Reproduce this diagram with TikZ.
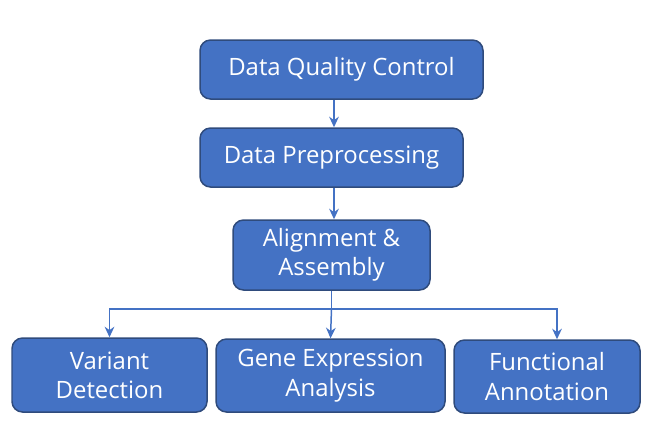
\documentclass[tikz,border=0pt]{standalone}
\usepackage{fontspec}
\setmainfont{Open Sans}
\usetikzlibrary{arrows.meta}
\definecolor{boxblue}{HTML}{4472C4}
\definecolor{boxline}{HTML}{2F4B7C}
\tikzset{every picture/.style={line width=0.85pt}}
\tikzset{stagebox/.style={draw=boxline,fill=boxblue,rounded corners=6pt,text=white,
  align=center,inner sep=0pt,font=\fontsize{13.6}{16.6}\selectfont}}

\begin{document}
\begin{tikzpicture}[>={Stealth[length=6pt,width=5.5pt]}]
  \useasboundingbox (0,0) rectangle (13,-8.82);
  \node[stagebox,minimum width=5.66cm,minimum height=1.18cm] (dqc) at (6.83,-1.39) {Data Quality Control};
  \node[stagebox,minimum width=5.26cm,minimum height=1.18cm] (prep) at (6.63,-3.15) {Data Preprocessing};
  \node[stagebox,minimum width=3.94cm,minimum height=1.4cm] (align) at (6.63,-5.1) {Alignment \&\\Assembly};
  \node[stagebox,minimum width=3.9cm,minimum height=1.48cm] (variant) at (2.19,-7.5) {Variant\\Detection};
  \node[stagebox,minimum width=4.58cm,minimum height=1.46cm] (gene) at (6.61,-7.51) {Gene Expression\\Analysis};
  \node[stagebox,minimum width=3.72cm,minimum height=1.46cm] (func) at (10.94,-7.53) {Functional\\Annotation};
  \draw[->,boxblue] (dqc.south -| 6.68,0) -- (prep.north -| 6.68,0);
  \draw[->,boxblue] (prep.south -| 6.68,0) -- (align.north -| 6.68,0);
  \draw[boxblue] (align.south) -- ++(0,-0.36) coordinate (split);
  \draw[->,boxblue] (split) -| (variant.north);
  \draw[->,boxblue] (split) -- (gene.north);
  \draw[->,boxblue] (split) -| ([xshift=0.2cm]func.north);
\end{tikzpicture}
\end{document}
